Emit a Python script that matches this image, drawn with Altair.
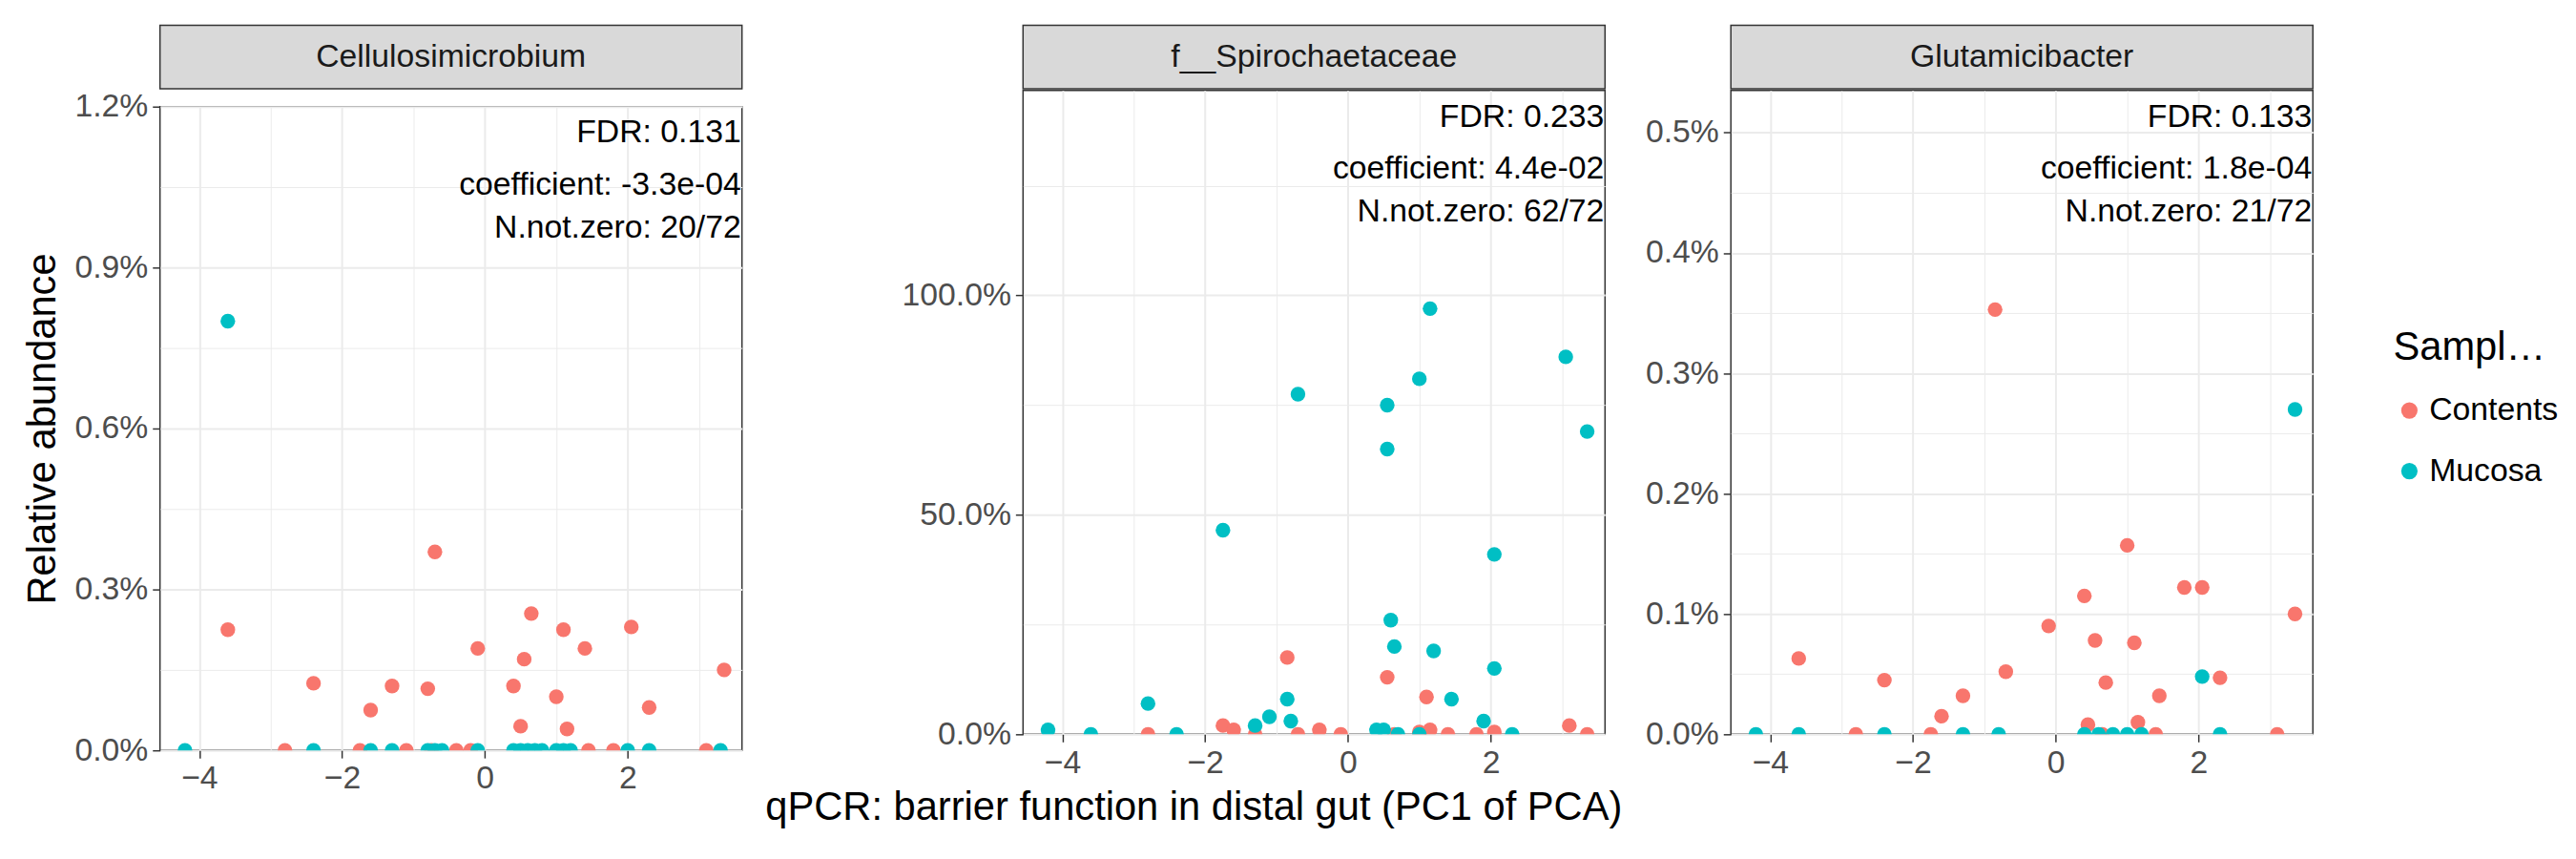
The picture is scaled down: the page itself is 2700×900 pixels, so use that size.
import altair as alt
import pandas as pd

# ---- data (x = PC1, y = relative abundance as fraction) ----
cell_contents_x = [-3.6, -2.8, -2.4, -1.75, -1.6, -1.3, -1.1, -0.8, -0.7, -0.75, -0.4, -0.2, -0.1,
                   0.4, 0.5, 0.55, 0.65, 1.0, 1.1, 1.15, 1.4, 1.45, 1.8, 2.05, 2.3, 3.1, 3.35]
cell_contents_y = [0.00225, 0, 0.00125, 0, 0.00075, 0.0012, 0, 0.00115, 0.0037, 0, 0, 0, 0.0019,
                   0.0012, 0.00045, 0.0017, 0.00255, 0.001, 0.00225, 0.0004, 0.0019, 0, 0, 0.0023, 0.0008, 0, 0.0015]
cell_mucosa_x = [-4.2, -3.6, -2.4, -1.6, -1.3, -0.8, -0.7, -0.6, -0.1, 0.4, 0.5, 0.6, 0.7, 0.8,
                 1.0, 1.1, 1.2, 2.0, 2.3, 3.3]
cell_mucosa_y = [0, 0.008, 0, 0, 0, 0, 0, 0, 0, 0, 0, 0, 0, 0, 0, 0, 0, 0, 0, 0]

spiro_contents_x = [-2.8, -1.75, -1.6, -1.3, -0.85, -0.7, -0.4, -0.1, 0.55, 0.65, 1.0, 1.1, 1.15,
                    1.4, 1.8, 2.05, 3.1, 3.35]
spiro_contents_y = [0, 0.02, 0.01, 0, 0.175, 0, 0.01, 0, 0.13, 0, 0.005, 0.085, 0.01,
                    0, 0, 0.005, 0.02, 0]
spiro_mucosa_x = [-4.2, -3.6, -2.8, -2.4, -1.75, -1.3, -1.1, -0.85, -0.8, -0.7, 0.4, 0.5, 0.55, 0.55,
                  0.6, 0.65, 0.7, 1.0, 1.0, 1.15, 1.2, 1.45, 1.9, 2.05, 2.05, 2.3, 3.05, 3.35]
spiro_mucosa_y = [0.01, 0, 0.07, 0, 0.465, 0.02, 0.04, 0.08, 0.03, 0.775, 0.01, 0.01, 0.75, 0.65,
                  0.26, 0.2, 0, 0.81, 0, 0.97, 0.19, 0.08, 0.03, 0.41, 0.15, 0, 0.86, 0.69]

glut_contents_x = [-3.6, -2.8, -2.4, -1.75, -1.6, -1.3, -0.85, -0.7, -0.1, 0.4, 0.45, 0.55, 0.65,
                   0.7, 1.0, 1.1, 1.15, 1.4, 1.45, 1.8, 2.05, 2.3, 3.1, 3.35]
glut_contents_y = [0.00063, 0, 0.00045, 0, 0.00015, 0.00032, 0.00353, 0.00052, 0.0009, 0.00115,
                   0.00008, 0.00078, 0, 0.00043, 0.00157, 0.00076, 0.0001, 0, 0.00032, 0.00122,
                   0.00122, 0.00047, 0, 0.001]
glut_mucosa_x = [-4.2, -3.6, -2.4, -1.3, -0.8, 0.4, 0.6, 0.8, 1.0, 1.2, 2.05, 2.3, 3.35]
glut_mucosa_y = [0, 0, 0, 0, 0, 0, 0, 0, 0, 0, 0.00048, 0, 0.0027]

panels = [
    ("Cellulosimicrobium", cell_contents_x, cell_contents_y, cell_mucosa_x, cell_mucosa_y,
     ["FDR: 0.131", "coefficient: -3.3e-04", "N.not.zero: 20/72"], 0.012, 0.003),
    ("f__Spirochaetaceae", spiro_contents_x, spiro_contents_y, spiro_mucosa_x, spiro_mucosa_y,
     ["FDR: 0.233", "coefficient: 4.4e-02", "N.not.zero: 62/72"], 1.467, 0.5),
    ("Glutamicibacter", glut_contents_x, glut_contents_y, glut_mucosa_x, glut_mucosa_y,
     ["FDR: 0.133", "coefficient: 1.8e-04", "N.not.zero: 21/72"], 0.00535, 0.001),
]

W, H, HEAD = 615, 680, 67
FONT = "Liberation Sans"


def grid_axis(values, major, **kw):
    test = " || ".join(f"abs(datum.value - ({v})) < 1e-9" for v in major)
    return alt.Axis(
        values=values,
        grid=True,
        gridColor="#EBEBEB",
        gridWidth={"condition": {"test": test, "value": 2}, "value": 1},
        tickColor={"condition": {"test": test, "value": "#333333"}, "value": "transparent"},
        labelExpr=f"({test}) ? datum.label : ''",
        tickSize=8, tickWidth=1.5, domain=False,
        labelFontSize=34, labelColor="#4D4D4D", labelFont=FONT, labelPadding=5,
        titleFont=FONT, titleFontSize=42, titleFontWeight="normal", titleColor="black",
        **kw,
    )


columns = []
for i, (name, cx, cy, mx, my, notes, ytop, ystep) in enumerate(panels):
    df = pd.concat([
        pd.DataFrame({"x": cx, "y": cy, "origin": "Contents"}),
        pd.DataFrame({"x": mx, "y": my, "origin": "Mucosa"}),
    ])
    n = int(round(ytop / ystep * 2 + 1e-6)) + 1
    yvals = [round(k * ystep / 2, 8) for k in range(n)]
    ymajor = [v for k, v in enumerate(yvals) if k % 2 == 0]
    xvals = [-4, -3, -2, -1, 0, 1, 2, 3]
    xmajor = [-4, -2, 0, 2]

    xkw = dict(title="qPCR: barrier function in distal gut (PC1 of PCA)", titleX=180,
               titlePadding=10) if i == 1 else dict(title=None)
    ykw = dict(title="Relative abundance", titlePadding=12) if i == 0 else dict(title=None)

    points = alt.Chart(df).mark_circle(size=240, opacity=1, clip=True).encode(
        x=alt.X("x:Q", scale=alt.Scale(domain=[-4.55, 3.6], nice=False, zero=False),
                axis=grid_axis(xvals, xmajor, format="d", **xkw)),
        y=alt.Y("y:Q", scale=alt.Scale(domain=[0, ytop], nice=False),
                axis=grid_axis(yvals, ymajor, format=".1%", **ykw)),
        color=alt.Color("origin:N", title="Sample origin",
                        scale=alt.Scale(domain=["Contents", "Mucosa"], range=["#F8766D", "#00BFC4"])),
    )
    note_df = pd.DataFrame({"t": notes, "py": [28, 83, 128]})
    text = alt.Chart(note_df).mark_text(align="right", baseline="middle", font=FONT,
                                        fontSize=34, color="black").encode(
        x=alt.value(W - 1), y=alt.Y("py:Q", scale=None), text="t:N")
    panel = alt.layer(points, text).properties(width=W, height=H)

    head_df = pd.DataFrame({"t": [name]})
    head_box = alt.Chart(head_df).mark_rect(fill="#D9D9D9", stroke="#333333", strokeWidth=1.5).encode(
        x=alt.value(0), x2=alt.value(W), y=alt.value(0), y2=alt.value(HEAD))
    head_txt = alt.Chart(head_df).mark_text(font=FONT, fontSize=34, color="#1A1A1A").encode(
        x=alt.value(W / 2), y=alt.value(HEAD / 2), text="t:N")
    header = alt.layer(head_box, head_txt).properties(width=W, height=HEAD, view=alt.ViewConfig(stroke=None))

    columns.append(alt.vconcat(header, panel, spacing=0))

chart = alt.hconcat(*columns, spacing=22).configure_view(
    stroke="#333333", strokeWidth=1.5
).configure_legend(
    titleFont=FONT, titleFontSize=42, titleFontWeight="normal", titleColor="black",
    labelFont=FONT, labelFontSize=34, labelColor="black", symbolType="circle", symbolSize=300,
    rowPadding=30, titlePadding=28, orient="none", legendX=2360, legendY=320,
).properties(background="white", padding={"left": 14, "top": 14, "right": 10, "bottom": 10})

chart.save("out.html", embed_options={"renderer": "svg", "actions": False})
